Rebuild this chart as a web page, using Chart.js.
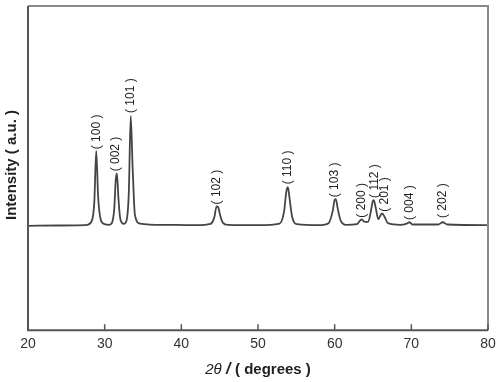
<!DOCTYPE html>
<html>
<head>
<meta charset="utf-8">
<script src="https://cdn.jsdelivr.net/npm/chart.js@4.4.1/dist/chart.umd.min.js"></script>
<style>
  html, body { margin: 0; padding: 0; background: #fff; }
  #wrap { width: 500px; height: 382px; position: relative; }
</style>
</head>
<body>
<div id="wrap"><canvas id="xrd"></canvas></div>
<script>
// XRD pattern: 2θ (degrees) vs intensity (a.u., 0–100 axis)
const twoTheta = [20, 24, 27.5, 28.3, 28.65, 28.9, 29.15, 29.5, 30.0, 30.6, 30.95, 31.25, 31.45, 31.6, 31.8, 32.05, 32.5,
  32.85, 33.15, 33.4, 33.65, 33.95, 34.6, 38, 42, 43.8, 44.3, 44.6, 44.8, 45.05, 45.4, 46.1, 50, 52.8, 53.4, 53.7, 53.9,
  54.1, 54.45, 55.1, 58, 59.2, 59.75, 60.0, 60.15, 60.4, 60.8, 61.5, 62.9, 63.3, 63.55, 63.85, 64.35, 64.75, 64.95, 65.1,
  65.35, 65.7, 66.0, 66.2, 66.5, 66.95, 68.6, 69.4, 69.75, 70.15, 73.5, 74.1, 74.7, 80];
const intensity = [32.2, 32.3, 32.4, 33.6, 39.5, 55.3, 41.0, 34.0, 32.7, 32.5, 33.1, 37.5, 46.5, 48.4, 40.5, 34.2, 32.8,
  33.8, 42.5, 66.1, 50.0, 35.5, 32.9, 32.5, 32.4, 32.8, 34.8, 38.2, 38.0, 35.6, 33.2, 32.5, 32.4, 32.9, 36.6, 42.8, 44.1,
  41.0, 35.0, 32.7, 32.4, 33.0, 36.8, 40.2, 40.4, 37.5, 33.7, 32.5, 32.7, 33.8, 34.2, 33.5, 33.4, 37.0, 39.6, 40.1,
  37.8, 34.2, 35.5, 36.0, 35.0, 33.0, 32.5, 32.9, 33.3, 32.6, 32.6, 33.3, 32.6, 32.4];

// reflection labels and where each sits (2θ of label centre, intensity at label bottom)
const hkl = ["( 100 )", "( 002 )", "( 101 )", "( 102 )", "( 110 )", "( 103 )", "( 200 )", "( 112 )", "( 201 )", "( 004 )", "( 202 )"];
const hklAt = [29.0, 31.5, 33.4, 44.6, 53.9, 60.0, 63.5, 65.2, 66.5, 69.8, 74.1];
const hklBase = [55.8, 49.0, 67.0, 38.8, 45.0, 41.0, 34.7, 40.8, 36.5, 34.0, 34.6];

const xTicks = [20, 30, 40, 50, 60, 70, 80];

const pts = twoTheta.map((x, i) => ({ x, y: intensity[i] }));
const SANS = "'Liberation Sans', Arial, sans-serif";

const decor = {
  id: "decor",
  afterDatasetsDraw(chart) {
    const { ctx, chartArea: a, scales: { x, y } } = chart;
    ctx.save();
    // frame: top/right lighter gray, left/bottom dark
    ctx.lineWidth = 2;
    ctx.strokeStyle = "#8a8a8a";
    ctx.beginPath();
    ctx.moveTo(a.left, a.top); ctx.lineTo(a.right, a.top); ctx.lineTo(a.right, a.bottom);
    ctx.stroke();
    ctx.strokeStyle = "#555";
    ctx.beginPath();
    ctx.moveTo(a.left, a.top); ctx.lineTo(a.left, a.bottom); ctx.lineTo(a.right, a.bottom);
    ctx.stroke();
    // inward ticks on the 2θ axis
    ctx.lineWidth = 1.5;
    xTicks.forEach(v => {
      const px = x.getPixelForValue(v);
      ctx.beginPath(); ctx.moveTo(px, a.bottom); ctx.lineTo(px, a.bottom - 6); ctx.stroke();
    });
    // rotated hkl labels
    ctx.fillStyle = "#222";
    ctx.font = "12px " + SANS;
    ctx.textAlign = "left";
    ctx.textBaseline = "middle";
    hkl.forEach((t, i) => {
      ctx.save();
      ctx.translate(x.getPixelForValue(hklAt[i]), y.getPixelForValue(hklBase[i]));
      ctx.rotate(-Math.PI / 2);
      ctx.fillText(t, 0, 0);
      ctx.restore();
    });
    // axis titles
    ctx.font = "bold 15px " + SANS;
    ctx.save();
    ctx.translate(12, 165);
    ctx.rotate(-Math.PI / 2);
    ctx.textAlign = "center";
    ctx.fillText("Intensity ( a.u. )", 0, 0);
    ctx.restore();
    const cx = (a.left + a.right) / 2, ty = 370;
    const parts = [["2θ", "italic 15px " + SANS], [" / ", "bold italic 16px " + SANS], ["( degrees )", "bold 15px " + SANS]];
    const widths = parts.map(([t, f]) => { ctx.font = f; return ctx.measureText(t).width; });
    let sx = cx - widths.reduce((s, w) => s + w, 0) / 2;
    ctx.textAlign = "left";
    parts.forEach(([t, f], i) => { ctx.font = f; ctx.fillText(t, sx, ty); sx += widths[i]; });
    ctx.restore();
  },
};

new Chart(document.getElementById("xrd"), {
  type: "line",
  data: {
    datasets: [{
      data: pts, borderColor: "#444", borderWidth: 1.8, pointRadius: 0,
      cubicInterpolationMode: "monotone", fill: false,
    }],
  },
  options: {
    responsive: true, maintainAspectRatio: false, animation: false,
    layout: { padding: { left: 28, right: 12, top: 6, bottom: 23 } },
    plugins: { legend: { display: false }, tooltip: { enabled: false } },
    scales: {
      x: {
        type: "linear", min: 20, max: 80,
        afterBuildTicks: s => { s.ticks = xTicks.map(v => ({ value: v })); },
        afterFit: s => { s.paddingRight = 0; s.paddingLeft = 0; },
        grid: { display: false, drawTicks: false },
        border: { display: false },
        ticks: { padding: 6, color: "#333", font: { size: 14, family: SANS } },
      },
      y: { display: false, min: 0, max: 100 },
    },
  },
  plugins: [decor],
});
</script>
</body>
</html>
